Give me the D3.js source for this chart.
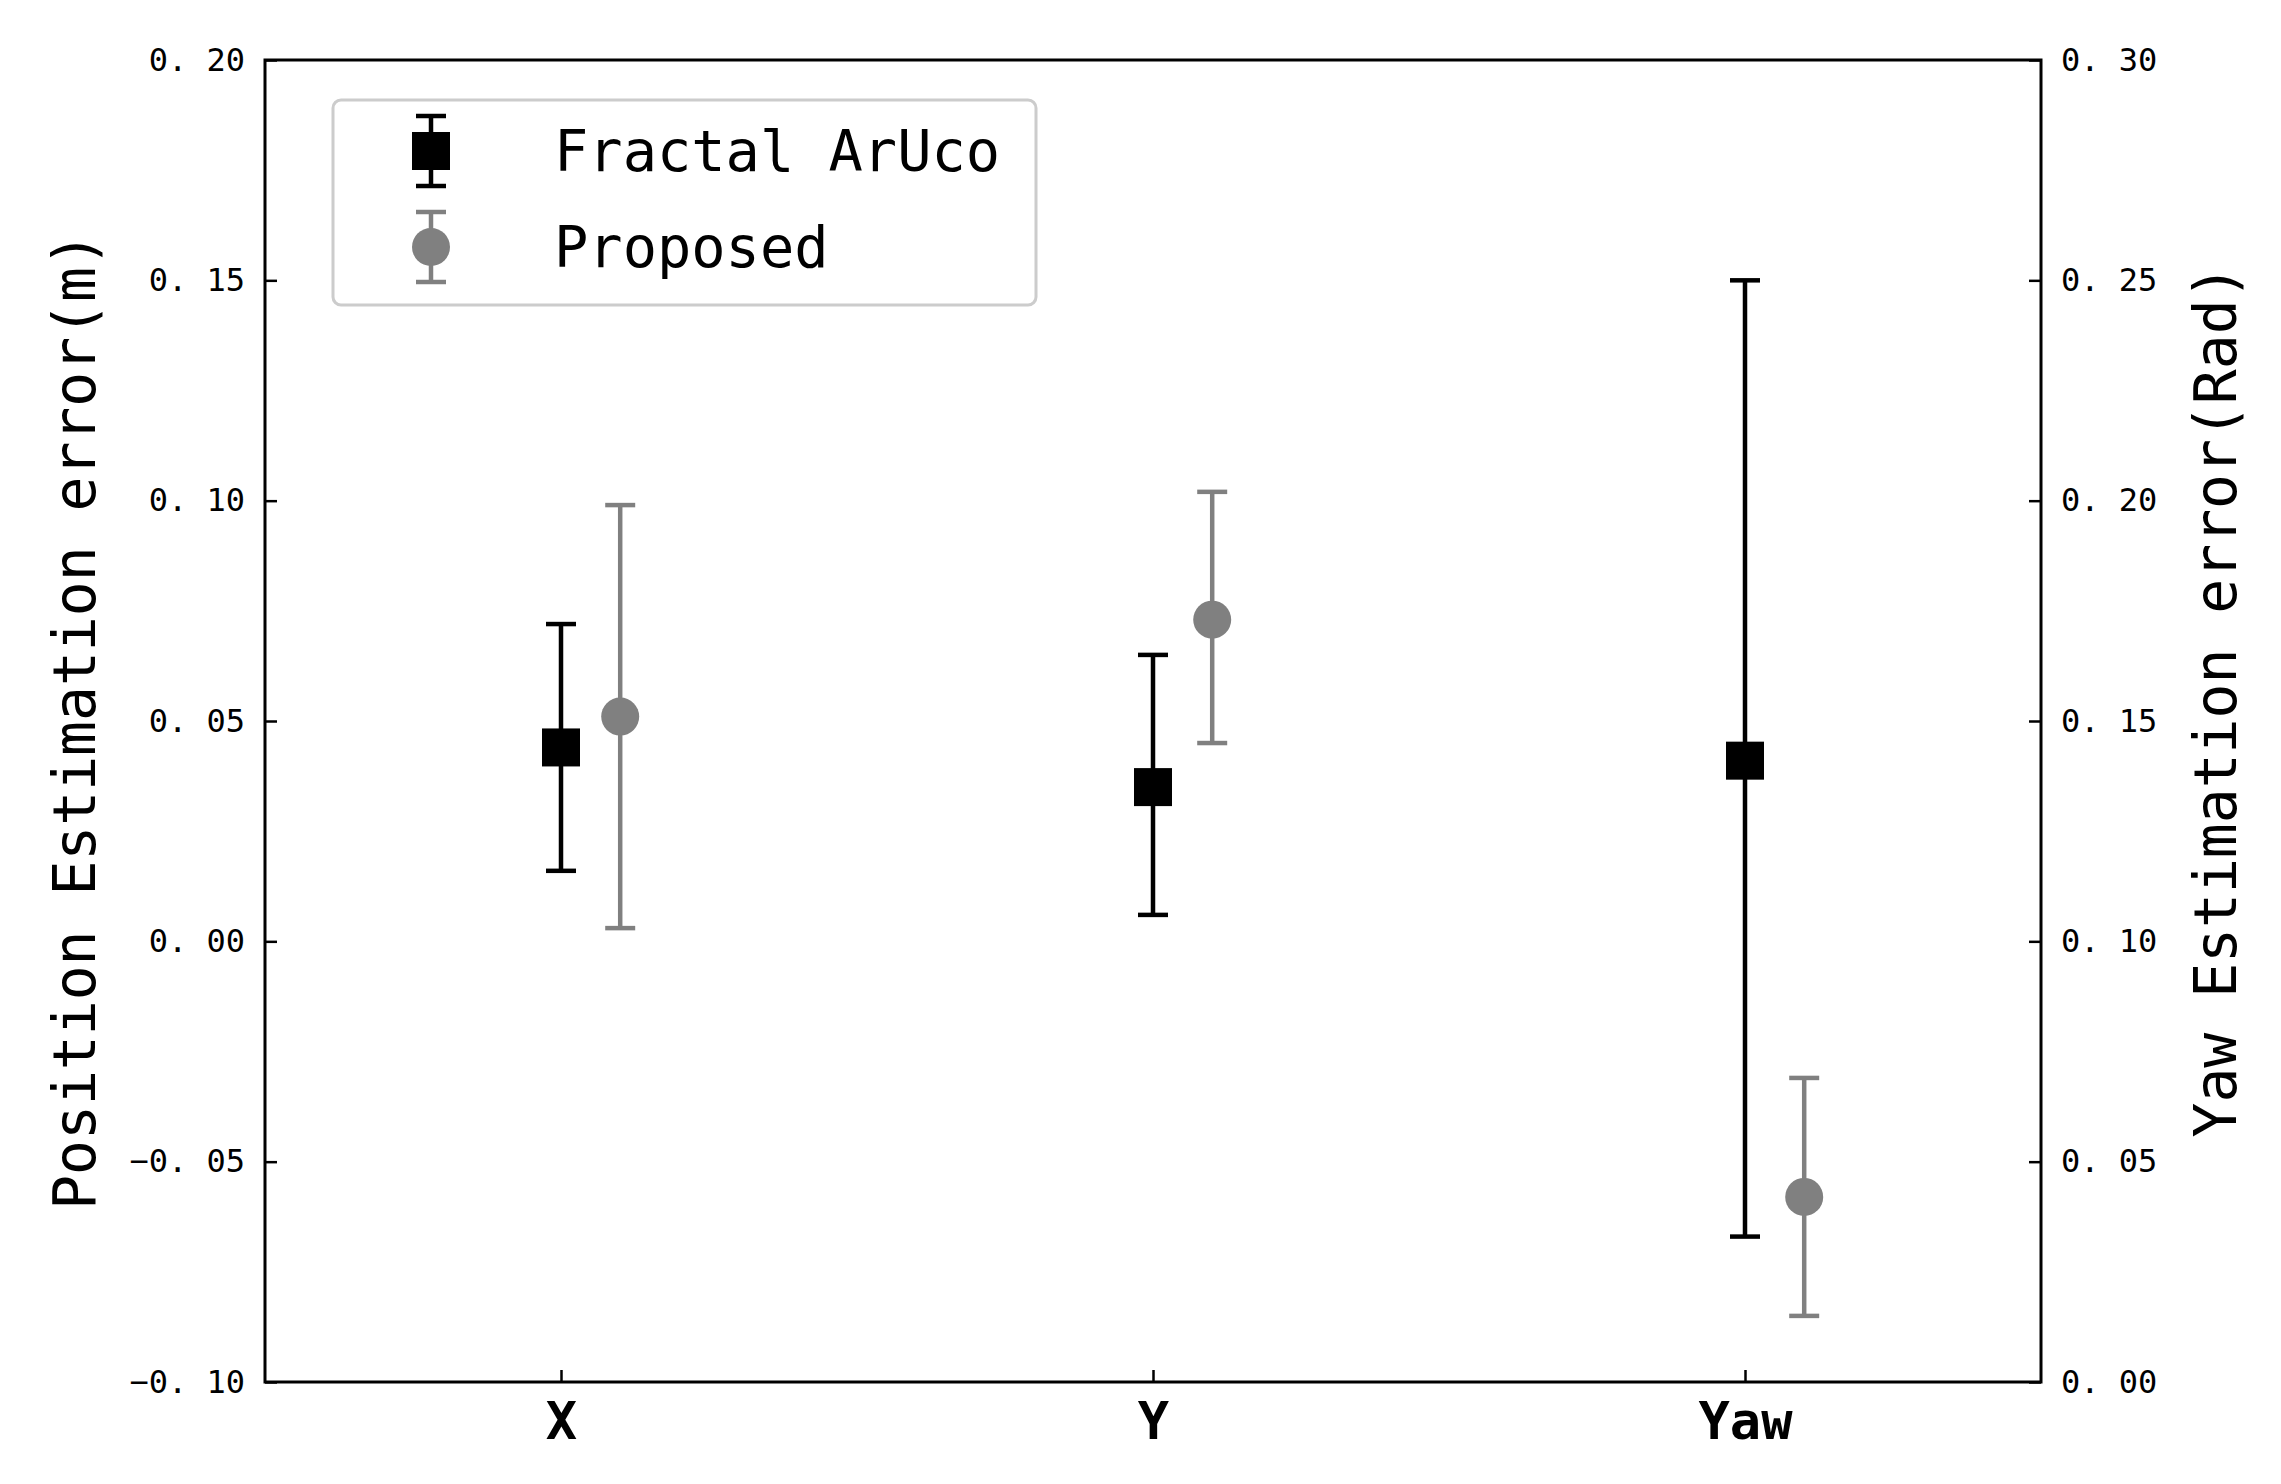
<!DOCTYPE html>
<html><head><meta charset="utf-8">
<script src="https://cdn.jsdelivr.net/npm/d3@7"></script>
<style>body{margin:0;background:#fff}text{font-family:"DejaVu Sans Mono","Liberation Mono",monospace}</style>
</head><body><div id="chart"></div>
<script>
// data
const categories = ["X", "Y", "Yaw"];
const fractalMean = [0.044, 0.035, 0.041];
const fractalLow = [0.016, 0.006, -0.067];
const fractalHigh = [0.072, 0.065, 0.150];
const proposedMean = [0.051, 0.073, -0.058];
const proposedLow = [0.003, 0.045, -0.085];
const proposedHigh = [0.099, 0.102, -0.031];
const leftTicks = [-0.10, -0.05, 0.00, 0.05, 0.10, 0.15, 0.20];
const rightTicks = [0.00, 0.05, 0.10, 0.15, 0.20, 0.25, 0.30];

const W = 2281, H = 1484;
const margin = { top: 60, right: 240, bottom: 102, left: 265 };
const width = W - margin.left - margin.right;
const height = H - margin.top - margin.bottom;

const svg = d3.select("#chart").append("svg").attr("width", W).attr("height", H)
  .append("g").attr("transform", `translate(${margin.left},${margin.top})`);

const x = d3.scaleLinear().domain([-0.5, 2.5]).range([0, width]);
const y = d3.scaleLinear().domain([-0.10, 0.20]).range([height, 0]);
const yR = d3.scaleLinear().domain([0, 0.30]).range([height, 0]);

const fmt = d => d3.format(".2f")(d).replace("-", "\u2212").replace(".", ". ");

function styleAxis(g) {
  g.select(".domain").remove();
  g.selectAll(".tick line").attr("stroke", "#000").attr("stroke-width", 2.5);
  g.selectAll(".tick text").style("font-size", "32px").attr("fill", "#000");
}

svg.append("g").call(d3.axisLeft(y).tickValues(leftTicks).tickFormat(fmt).tickSize(-12).tickPadding(20)).call(styleAxis);
svg.append("g").attr("transform", `translate(${width},0)`)
  .call(d3.axisRight(yR).tickValues(rightTicks).tickFormat(fmt).tickSize(-12).tickPadding(20)).call(styleAxis);
svg.append("g").attr("transform", `translate(0,${height})`)
  .call(d3.axisBottom(x).tickValues([0, 1, 2]).tickFormat(i => categories[i]).tickSize(-12).tickPadding(20))
  .call(styleAxis)
  .call(g => g.selectAll(".tick text").style("font-size", "52px").style("font-weight", "bold"));

svg.append("rect").attr("width", width).attr("height", height)
  .attr("fill", "none").attr("stroke", "#000").attr("stroke-width", 3);

function drawSeries(mean, low, high, off, color, shape) {
  const g = svg.append("g");
  mean.forEach((m, i) => {
    const cx = x(i + off);
    g.append("line").attr("x1", cx).attr("x2", cx).attr("y1", y(low[i])).attr("y2", y(high[i]))
      .attr("stroke", color).attr("stroke-width", 4.5);
    [low[i], high[i]].forEach(v => g.append("line").attr("x1", cx - 15).attr("x2", cx + 15)
      .attr("y1", y(v)).attr("y2", y(v)).attr("stroke", color).attr("stroke-width", 4.5));
    if (shape === "square")
      g.append("rect").attr("x", cx - 19).attr("y", y(m) - 19).attr("width", 38).attr("height", 38).attr("fill", color);
    else
      g.append("circle").attr("cx", cx).attr("cy", y(m)).attr("r", 19).attr("fill", color);
  });
}
drawSeries(fractalMean, fractalLow, fractalHigh, 0, "#000", "square");
drawSeries(proposedMean, proposedLow, proposedHigh, 0.1, "#808080", "circle");

// labels
svg.append("text").attr("transform", "rotate(-90)").attr("x", -height / 2).attr("y", -170)
  .attr("text-anchor", "middle").style("font-size", "58px").text("Position Estimation error(m)");
svg.append("text").attr("transform", "rotate(-90)").attr("x", -height / 2 + 20).attr("y", width + 195)
  .attr("text-anchor", "middle").style("font-size", "58px").text("Yaw Estimation error(Rad)");

// legend
const lg = svg.append("g").attr("transform", `translate(${333 - margin.left},${100 - margin.top})`);
lg.append("rect").attr("width", 703).attr("height", 205).attr("rx", 8)
  .attr("fill", "#fff").attr("stroke", "#ccc").attr("stroke-width", 3);
const items = [{ label: "Fractal ArUco", color: "#000", shape: "square", yy: 51 },
               { label: "Proposed", color: "#808080", shape: "circle", yy: 147 }];
items.forEach(it => {
  const cx = 98;
  lg.append("line").attr("x1", cx).attr("x2", cx).attr("y1", it.yy - 35).attr("y2", it.yy + 35)
    .attr("stroke", it.color).attr("stroke-width", 4.5);
  [it.yy - 35, it.yy + 35].forEach(v => lg.append("line").attr("x1", cx - 15).attr("x2", cx + 15)
    .attr("y1", v).attr("y2", v).attr("stroke", it.color).attr("stroke-width", 4.5));
  if (it.shape === "square")
    lg.append("rect").attr("x", cx - 19).attr("y", it.yy - 19).attr("width", 38).attr("height", 38).attr("fill", it.color);
  else
    lg.append("circle").attr("cx", cx).attr("cy", it.yy).attr("r", 19).attr("fill", it.color);
  lg.append("text").attr("x", 221).attr("y", it.yy).attr("dy", "0.35em")
    .style("font-size", "57px").text(it.label);
});
</script></body></html>
